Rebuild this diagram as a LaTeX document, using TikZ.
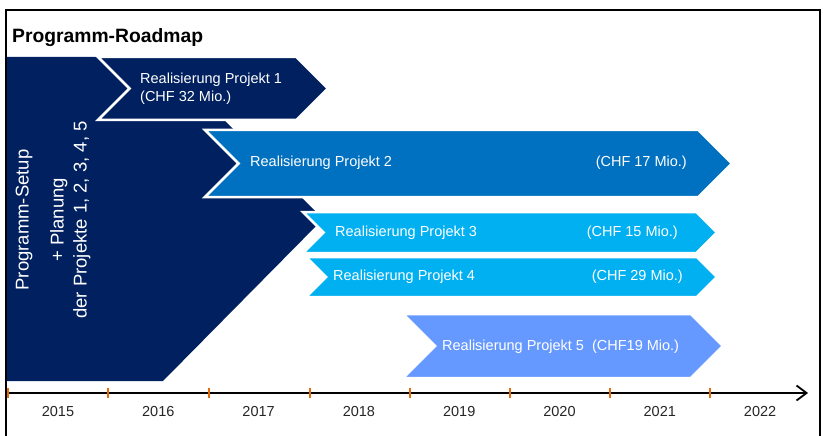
\documentclass[tikz,border=0pt]{standalone}
\usepackage{fontspec}
\setmainfont{Liberation Sans}
\usepackage{xcolor}
\usepackage{tikz}
\usetikzlibrary{shapes, arrows.meta}
\definecolor{navy}{RGB}{0,32,96}
\definecolor{midblue}{RGB}{0,112,192}
\definecolor{skyblue}{RGB}{0,176,240}
\definecolor{lightblue}{RGB}{102,153,255}
\definecolor{tickorange}{RGB}{228,108,10}
\tikzstyle{chevron} = [signal, signal from=west, signal to=east, signal pointer angle=90, draw=white, line width=2.5pt, inner sep=0pt]
\tikzstyle{chevtext} = [text=white, inner sep=0pt, font=\fontsize{14.5}{18}\selectfont]
\tikzstyle{yeartext} = [text=black!85, inner sep=0pt, font=\fontsize{14.5}{18}\selectfont]
\tikzstyle{yeartick} = [draw=tickorange, line width=1.5pt]
\tikzstyle{roadtitle} = [inner sep=0pt, font=\fontsize{19.3}{23}\selectfont\bfseries]
\tikzstyle{arrow} = [line width=1.8pt, -{Straight Barb[length=10pt, width=15pt]}]

\begin{document}
\begin{tikzpicture}[x=1pt, y=-1pt]
\useasboundingbox (0,0) rectangle (823,436);

%==============================================
%Programm-Roadmap
%==============================================
\node (titel) [roadtitle, anchor=base west] at (12,43) {Programm-Roadmap};

%Setup + Planung==============================================
\fill[navy] (5,57) -- (161,57) -- (323,219) -- (163,381) -- (5,381) -- cycle;
\node (setup) [text=white, rotate=90, align=center, font=\fontsize{18.5}{23}\selectfont] at (53,220) {Programm-Setup\\[12pt]+ Planung\\der Projekte 1, 2, 3, 4, 5};

%Projekt 1==============================================
\node (proj1) [chevron, fill=navy, minimum width=230pt, minimum height=63pt] at (213,88.5) {};
\node (txt1) [chevtext, align=left, anchor=west] at (140,89) {Realisierung Projekt 1\\(CHF 32 Mio.)};

%Projekt 2==============================================
\node (proj2) [chevron, fill=midblue, minimum width=527pt, minimum height=67pt] at (468.5,163.5) {};
\node (txt2a) [chevtext, anchor=west] at (250,163) {Realisierung Projekt 2};
\node (txt2b) [chevtext, anchor=east] at (687,163) {(CHF 17 Mio.)};

%Projekt 3==============================================
\node (proj3) [chevron, fill=skyblue, minimum width=414pt, minimum height=41pt] at (510,232.5) {};
\node (txt3a) [chevtext, anchor=west] at (335,233) {Realisierung Projekt 3};
\node (txt3b) [chevtext, anchor=east] at (678,233) {(CHF 15 Mio.)};

%Projekt 4==============================================
\node (proj4) [chevron, fill=skyblue, minimum width=411pt, minimum height=40pt] at (511.5,277) {};
\node (txt4a) [chevtext, anchor=west] at (333,277) {Realisierung Projekt 4};
\node (txt4b) [chevtext, anchor=east] at (683,277) {(CHF 29 Mio.)};

%Projekt 5==============================================
\node (proj5) [chevron, fill=lightblue, minimum width=320pt, minimum height=64pt] at (563,346) {};
\node (txt5) [chevtext, anchor=west] at (442,347) {Realisierung Projekt 5\ \ (CHF19 Mio.)};

%Zeitachse==============================================
\coordinate (start) at (5,393);
\coordinate (ende) at (808,393);
\draw [arrow] (start) -- (ende);
\foreach \x in {8,108,209,310,410,510,610,710}
	\draw [yeartick] (\x,388) -- (\x,398);
\foreach \jahr [count=\i from 0] in {2015,...,2022}
	\node (j\jahr) [yeartext] at (58+100.3*\i,412) {\jahr};

%Rahmen==============================================
\draw [line width=2.5pt] (6,436) -- (6,10) -- (820,10) -- (820,436);
\end{tikzpicture}
\end{document}
